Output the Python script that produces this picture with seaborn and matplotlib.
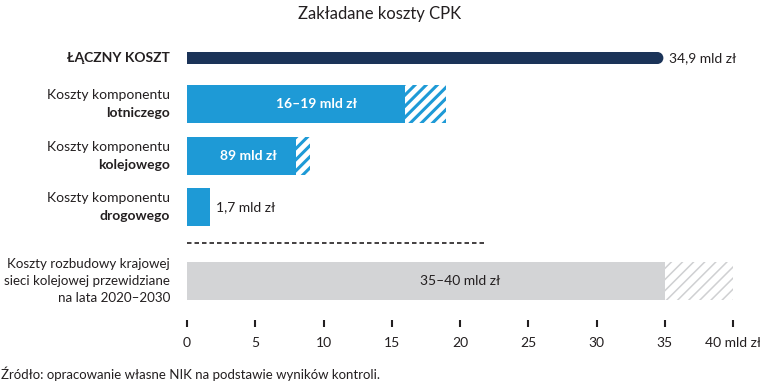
import matplotlib
matplotlib.use("Agg")
import matplotlib.pyplot as plt
import seaborn as sns
from matplotlib.patches import Ellipse

# ---------------- data ----------------
categories = ["ŁĄCZNY KOSZT",
              "Koszty komponentu lotniczego",
              "Koszty komponentu kolejowego",
              "Koszty komponentu drogowego",
              "Koszty rozbudowy krajowej sieci kolejowej przewidziane na lata 2020–2030"]
cost_low = [34.9, 16, 8, 1.7, 35]
cost_high = [34.9, 19, 9, 1.7, 40]
value_labels = ["34,9 mld zł", "16–19 mld zł", "89 mld zł", "1,7 mld zł", "35–40 mld zł"]
x_ticks = [0, 5, 10, 15, 20, 25, 30, 35, 40]
x_tick_labels = ["0", "5", "10", "15", "20", "25", "30", "35", "40 mld zł"]
title = "Zakładane koszty CPK"
source = "Źródło: opracowanie własne NIK na podstawie wyników kontroli."

# label lines (text, weight) for each category
label_lines = [
    [("ŁĄCZNY KOSZT", "bold")],
    [("Koszty komponentu", "normal"), ("lotniczego", "bold")],
    [("Koszty komponentu", "normal"), ("kolejowego", "bold")],
    [("Koszty komponentu", "normal"), ("drogowego", "bold")],
    [("Koszty rozbudowy krajowej", "normal"), ("sieci kolejowej przewidziane", "normal"),
     ("na lata 2020–2030", "normal")],
]

# ---------------- layout / style ----------------
W, H = 760, 383
row_y = [58, 104, 156, 207, 281]          # vertical layout (pixel units)
row_h = [12, 38, 38, 38, 38]
label_size = [10, 10, 10, 10, 9.6]
solid_colors = ["#1b3358", "#1e9ad6", "#1e9ad6", "#1e9ad6", "#d3d4d6"]
hatch_colors = [None, "#1e9ad6", "#1e9ad6", None, "#cfd0d2"]
hatch_lw = [None, 2.2, 2.2, None, 1.1]
label_inside = [False, True, True, False, True]
inside_color = [None, "white", "white", None, "#231f20"]
inside_weight = [None, "bold", "bold", None, "normal"]
TXT = "#231f20"

sns.set_theme(style="white")
plt.rcParams["font.family"] = ["Lato", "DejaVu Sans"]

fig = plt.figure(figsize=(W / 100, H / 100), dpi=100)
ax_left, ax_right, ax_top, ax_bottom = 187, 733, 40, 320
ax = fig.add_axes([ax_left / W, 1 - ax_bottom / H, (ax_right - ax_left) / W, (ax_bottom - ax_top) / H])
px_per_unit = (ax_right - ax_left) / 40.0

for i, cat in enumerate(categories):
    lo, hi = cost_low[i], cost_high[i]
    y, h = row_y[i], row_h[i]
    # hatched range part (drawn first, full length to the upper bound)
    if hi > lo:
        n0 = len(ax.patches)
        sns.barplot(x=[hi], y=[y], orient="y", native_scale=True, width=h,
                    color="white", saturation=1, ax=ax)
        for p in ax.patches[n0:]:
            p.set_facecolor("white")
            p.set_edgecolor(hatch_colors[i])
            p.set_linewidth(0)
            p.set_hatch("///")
            if hasattr(p, "set_hatch_linewidth"):
                p.set_hatch_linewidth(hatch_lw[i])
    # solid part
    n0 = len(ax.patches)
    sns.barplot(x=[lo], y=[y], orient="y", native_scale=True, width=h,
                color=solid_colors[i], saturation=1, ax=ax)
    for p in ax.patches[n0:]:
        p.set_facecolor(solid_colors[i])
        p.set_edgecolor("none")
        p.set_linewidth(0)
        if i == 0:
            # rounded right end for the total bar
            rx = (h / 2) / px_per_unit
            p.set_width(p.get_width() - rx)
            ax.add_patch(Ellipse((lo - rx, y), 2 * rx, h, facecolor=solid_colors[i],
                                 edgecolor="none", zorder=p.get_zorder()))

    # value labels
    if label_inside[i]:
        ax.text(hi / 2, y, value_labels[i], ha="center", va="center", fontsize=10,
                color=inside_color[i], fontweight=inside_weight[i], zorder=5)
    else:
        ax.text(hi + 0.4, y, value_labels[i], ha="left", va="center", fontsize=10,
                color=TXT, zorder=5)

    # category labels (right aligned, multi-line with mixed weight)
    lines = label_lines[i]
    n = len(lines)
    step = 17.5
    for k, (t, wgt) in enumerate(lines):
        yy = y + (k - (n - 1) / 2) * step
        ax.text(-(ax_left - 170) / px_per_unit, yy, t, ha="right", va="center",
                fontsize=label_size[i], fontweight=wgt, color=TXT, clip_on=False)

# dashed separator
ax.plot([0, 21.8], [243, 243], color=TXT, lw=1.2, ls=(0, (2.7, 1.8)), clip_on=False)

ax.set_xlim(0, 40)
ax.set_ylim(ax_bottom, ax_top)
ax.set_xticks(x_ticks, x_tick_labels)
ax.set_yticks([])
ax.set_xlabel("")
ax.set_ylabel("")
for s in ax.spines.values():
    s.set_visible(False)
ax.tick_params(axis="x", bottom=True, length=5, width=1.5, color=TXT, pad=7,
               labelsize=10, labelcolor=TXT)

fig.text(380 / W, 1 - 14 / H, title, ha="center", va="center", fontsize=12, color=TXT)
fig.text(1 / W, 1 - 374 / H, source, ha="left", va="center", fontsize=9.5, color=TXT)

fig.savefig("out.png", dpi=100)
